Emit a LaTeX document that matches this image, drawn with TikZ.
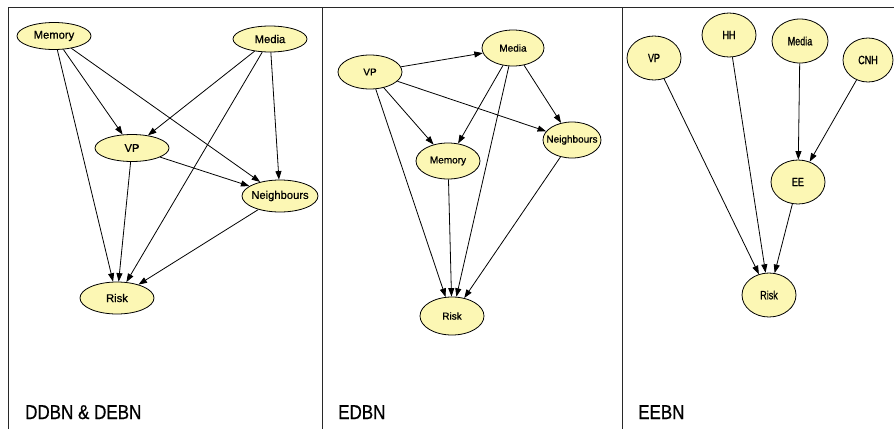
\documentclass[tikz,border=0pt]{standalone}
\usepackage{fontspec}
\usepackage{graphicx}
\setmainfont{Liberation Sans}
\newfontfamily\heavysans[FakeBold=0.8]{Liberation Sans}
\usetikzlibrary{shapes.geometric,arrows.meta}

\definecolor{nodefill}{RGB}{252,247,180}
\definecolor{framegray}{RGB}{40,40,40}

% centred text that does not widen the ellipse around it
\newcommand\ctext[1]{\makebox[0pt]{#1}}
\newcommand\ntext[1]{\makebox[0pt]{\scalebox{0.75}[1]{#1}}}
\newcommand\paneltitle[1]{\scalebox{0.85}[1]{#1}}

\begin{document}
\begin{tikzpicture}[x=1pt,y=-1pt,
  bnode/.style={ellipse,draw=black,fill=nodefill,line width=0.8pt,inner sep=0pt},
  big/.style={bnode,font=\heavysans\fontsize{11.2}{12}\selectfont},
  mid/.style={bnode,font=\heavysans\fontsize{10}{11}\selectfont},
  tall/.style={bnode,font=\heavysans\fontsize{12}{13}\selectfont,minimum width=54pt,minimum height=44pt},
  edge/.style={-{Triangle[length=8.5pt,width=6pt]},line width=0.8pt,black},
  frame/.style={line width=1pt,framegray},
  title/.style={anchor=base west,font=\heavysans\fontsize{20}{22}\selectfont,inner sep=0pt}]

\useasboundingbox (0,0) rectangle (894,429);

% panel frames
\coordinate (tl) at (8,7);
\coordinate (tr) at (894,7);
\coordinate (bl) at (8,429);
\coordinate (d1t) at (322,7);
\coordinate (d1b) at (322,429);
\coordinate (d2t) at (622,7);
\coordinate (d2b) at (622,429);
\draw[frame] (bl) -- (tl) -- (tr);
\draw[frame] (d1t) -- (d1b);
\draw[frame] (d2t) -- (d2b);

% ---------- DDBN & DEBN ----------
\node[big,minimum width=74pt,minimum height=27pt] (amem) at (54,36) {\ctext{Memory}};
\node[big,minimum width=74pt,minimum height=26pt] (amed) at (270,39) {\ctext{Media}};
\node[big,minimum width=74pt,minimum height=27pt] (avp) at (132,148) {\ctext{VP}};
\node[big,minimum width=76pt,minimum height=32pt] (anb) at (280,196) {\ctext{Neighbours}};
\node[big,minimum width=74pt,minimum height=32pt] (arisk) at (117,298) {\ctext{Risk}};

\draw[edge] (amem) -- (avp);
\draw[edge] (amem) -- (anb);
\draw[edge] (amem) -- (arisk);
\draw[edge] (amed) -- (avp);
\draw[edge] (amed) -- (anb);
\draw[edge] (amed) -- (arisk);
\draw[edge] (avp) -- (anb);
\draw[edge] (avp) -- (arisk);
\draw[edge] (anb) -- (arisk);

\node[title] (ttla) at (25,419) {\paneltitle{DDBN \& DEBN}};

% ---------- EDBN ----------
\node[mid,minimum width=64pt,minimum height=34pt] (bvp) at (370,72) {\ctext{VP}};
\node[mid,minimum width=62pt,minimum height=36pt] (bmed) at (513,48) {\ctext{Media}};
\node[mid,minimum width=64pt,minimum height=36pt] (bmem) at (448,161) {\ctext{Memory}};
\node[mid,minimum width=58pt,minimum height=36pt] (bnb) at (572,140) {\ctext{Neighbours}};
\node[mid,minimum width=64pt,minimum height=38pt] (brisk) at (452,316) {\ctext{Risk}};

\draw[edge] (bvp) -- (bmed);
\draw[edge] (bvp) -- (bmem);
\draw[edge] (bvp) -- (bnb);
\draw[edge] (bvp) -- (brisk);
\draw[edge] (bmed) -- (bmem);
\draw[edge] (bmed) -- (bnb);
\draw[edge] (bmed) -- (brisk);
\draw[edge] (bmem) -- (brisk);
\draw[edge] (bnb) -- (brisk);

\node[title] (ttlb) at (338,419) {\paneltitle{EDBN}};

% ---------- EEBN ----------
\node[tall] (cvp) at (654,58) {\ntext{VP}};
\node[tall] (chh) at (729,35) {\ntext{HH}};
\node[tall,minimum width=56pt] (cmed) at (800,41) {\ntext{Media}};
\node[tall,minimum width=50pt] (ccnh) at (868,60) {\ntext{CNH}};
\node[tall] (cee) at (798,182) {\ntext{EE}};
\node[tall] (crisk) at (769,295) {\ntext{Risk}};

\draw[edge] (cvp) -- (crisk);
\draw[edge] (chh) -- (crisk);
\draw[edge] (cmed) -- (cee);
\draw[edge] (ccnh) -- (cee);
\draw[edge] (cee) -- (crisk);

\node[title] (ttlc) at (638,419) {\paneltitle{EEBN}};

\end{tikzpicture}
\end{document}
